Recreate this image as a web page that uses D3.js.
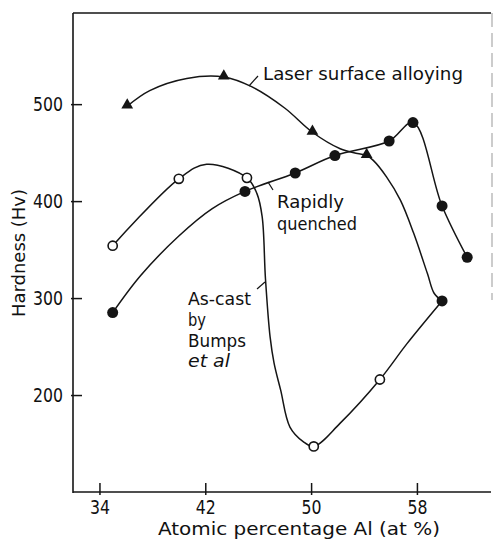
<!DOCTYPE html>
<html><head><meta charset="utf-8">
<script src="https://cdn.jsdelivr.net/npm/d3@7"></script>
<style>body{margin:0;background:#fff}svg text{font-family:"DejaVu Sans Condensed","DejaVu Sans",sans-serif;fill:#111}</style>
</head><body><svg id="c" width="493" height="541"></svg>
<script>
// ---- data ----
const xTicks = [34, 42, 50, 58];
const yTicks = [200, 300, 400, 500];
// measured points (markers)
const rapidX = [35, 45, 48.8, 51.8, 55.9, 57.7, 59.9, 61.8];
const rapidY = [285, 410, 429, 447, 462, 481, 395, 342];
const asCastX = [35, 40, 45.15, 50.2, 55.2];
const asCastY = [354, 423, 424, 147, 216];
const laserX = [36.1, 43.4, 50.1, 54.2];
const laserY = [498, 528, 471, 447];
const endX = [59.9];
const endY = [297];
// hand-drawn curves
const rapidCurveX = [35, 37.1, 40, 42.5, 45, 48.8, 51.8, 55.9, 57.7, 59.9, 61.8];
const rapidCurveY = [285, 323, 364, 392, 410, 429, 447, 462, 481, 395, 342];
const asCastCurveX = [35, 40, 42.1, 45.15, 45.9, 46.3, 46.55, 46.9, 47.2, 47.7, 48.4, 49.4, 50.2, 52.2, 55.2, 57.25, 59.9];
const asCastCurveY = [354, 423, 438, 424, 408, 384, 320, 260, 233, 205, 167, 152, 147, 171, 216, 253, 297];
const laserCurveX = [36.1, 37.8, 40.6, 43.4, 45.5, 48, 50.1, 52.2, 53.5, 54.2, 54.7, 55.7, 56.75, 57.75, 58.8, 59.3, 59.9];
const laserCurveY = [498, 514, 526.5, 528, 518, 496, 471, 454, 449, 447, 442, 425, 401, 367, 325, 305, 297];

// ---- chart ----
const svg = d3.select("#c");
const L = 73, R = 491, T = 13, B = 492;
const x = d3.scaleLinear().domain([32, 63.6]).range([L, R]);
const y = d3.scaleLinear().domain([100, 594]).range([B, T]);
const ink = "#151515";

// frame
svg.append("line").attr("x1", L).attr("x2", L).attr("y1", T).attr("y2", B + 1).attr("stroke", ink).attr("stroke-width", 1.6);
svg.append("line").attr("x1", L).attr("x2", R).attr("y1", B).attr("y2", B).attr("stroke", ink).attr("stroke-width", 1.6);
svg.append("line").attr("x1", L).attr("x2", R).attr("y1", T).attr("y2", T).attr("stroke", ink).attr("stroke-width", 1.6);
svg.append("line").attr("x1", R + 1).attr("x2", R + 1).attr("y1", T).attr("y2", 300).attr("stroke", "#999").attr("stroke-width", 1).attr("stroke-dasharray", "14,6");

// axes
const yAxis = d3.axisLeft(y).tickValues(yTicks).tickSizeInner(-9).tickSizeOuter(0).tickPadding(10).tickFormat(d3.format("d"));
const gy = svg.append("g").attr("transform", `translate(${L},0)`).call(yAxis);
gy.select(".domain").remove();
gy.selectAll(".tick line").attr("stroke", ink).attr("stroke-width", 1.5).attr("x1", -2);
gy.selectAll(".tick text").attr("font-size", 19).attr("textLength", 30).attr("lengthAdjust", "spacingAndGlyphs").style("font-family", '"DejaVu Sans Condensed","DejaVu Sans",sans-serif');

const xAxis = d3.axisBottom(x).tickValues(xTicks).tickSizeInner(-9).tickSizeOuter(0).tickPadding(9).tickFormat(d3.format("d"));
const gx = svg.append("g").attr("transform", `translate(0,${B})`).call(xAxis);
gx.select(".domain").remove();
gx.selectAll(".tick line").attr("stroke", ink).attr("stroke-width", 1.5).attr("y1", 3);
gx.selectAll(".tick text").attr("font-size", 19).attr("textLength", 20).attr("lengthAdjust", "spacingAndGlyphs").style("font-family", '"DejaVu Sans Condensed","DejaVu Sans",sans-serif');

// curves
const line = d3.line().x(d => x(d[0])).y(d => y(d[1])).curve(d3.curveCatmullRom.alpha(0.5));
const zip = (a, b) => a.map((v, i) => [v, b[i]]);
[[rapidCurveX, rapidCurveY], [asCastCurveX, asCastCurveY], [laserCurveX, laserCurveY]].forEach(([cx, cy]) => {
  svg.append("path").attr("d", line(zip(cx, cy))).attr("fill", "none").attr("stroke", ink).attr("stroke-width", 1.5);
});

// leader ticks
const leaders = [[258, 76, 249, 86], [273, 190, 268, 182], [257, 289, 265, 282]];
leaders.forEach(l => svg.append("line").attr("x1", l[0]).attr("y1", l[1]).attr("x2", l[2]).attr("y2", l[3]).attr("stroke", ink).attr("stroke-width", 1.2));

// markers
svg.selectAll(".rq").data(zip(rapidX, rapidY)).enter().append("circle")
  .attr("cx", d => x(d[0])).attr("cy", d => y(d[1])).attr("r", 5.5).attr("fill", ink);
svg.selectAll(".ac").data(zip(asCastX, asCastY)).enter().append("circle")
  .attr("cx", d => x(d[0])).attr("cy", d => y(d[1])).attr("r", 4.6).attr("fill", "#fff").attr("stroke", ink).attr("stroke-width", 1.6);
svg.selectAll(".ls").data(zip(laserX, laserY)).enter().append("path")
  .attr("d", d3.symbol(d3.symbolTriangle, 60))
  .attr("transform", d => `translate(${x(d[0])},${y(d[1]) - 1})`).attr("fill", ink);
svg.selectAll(".en").data(zip(endX, endY)).enter().append("circle")
  .attr("cx", d => x(d[0])).attr("cy", d => y(d[1])).attr("r", 5.5).attr("fill", ink);

// annotations
function label(txt, px, py, len, size, extra) {
  const t = svg.append("text").attr("x", px).attr("y", py).attr("font-size", size || 18).text(txt);
  if (len) t.attr("textLength", len).attr("lengthAdjust", "spacingAndGlyphs");
  if (extra) extra(t);
  return t;
}
label("Laser surface alloying", 263, 80, 200);
label("Rapidly", 277, 208, 67);
label("quenched", 277, 230, 80);
label("As-cast", 188, 305, 63);
label("by", 188, 326, 18);
label("Bumps", 188, 347, 58);
label("et al", 188, 367, 42, 18, t => t.attr("font-style", "italic"));
label("Atomic percentage Al (at %)", 158, 535, 282, 17.5);
label("Hardness (Hv)", 0, 0, 128, 18, t => t.attr("transform", "translate(25,253) rotate(-90)").attr("text-anchor", "middle"));
</script></body></html>
